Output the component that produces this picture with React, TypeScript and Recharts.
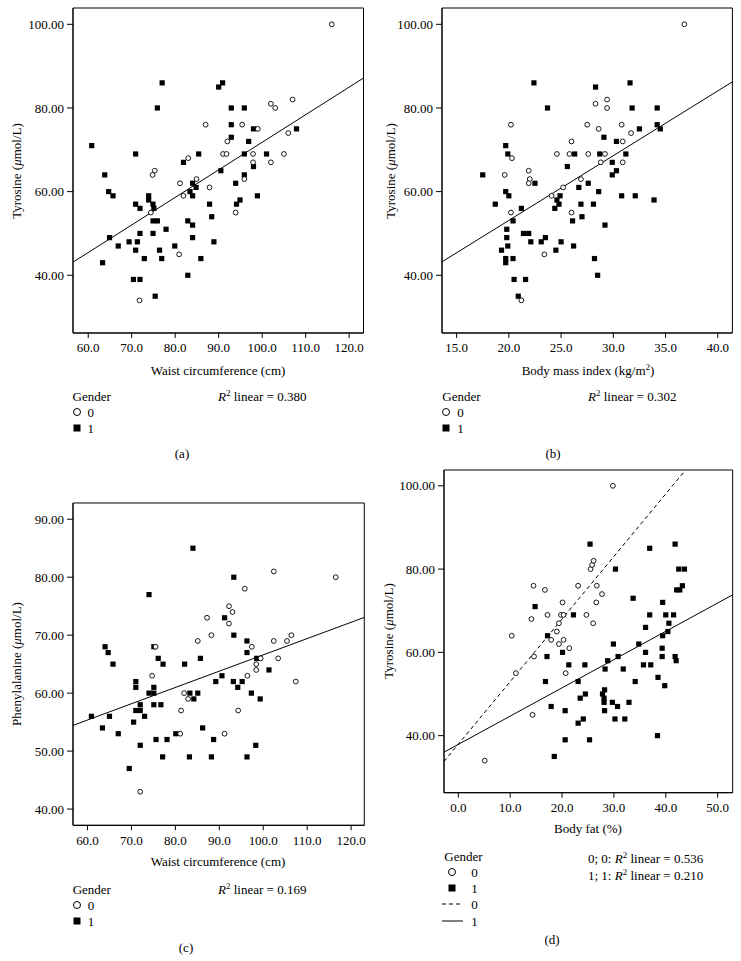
import { ScatterChart, Scatter, XAxis, YAxis, ReferenceLine, ReferenceArea } from "recharts";

type Pt = [number, number];

// (a) waist circumference (cm) vs tyrosine, by gender
const waistTyrF: Pt[] = [
  [116, 100], [102, 81], [103, 80], [107, 82], [87, 76], [95.4, 76], [99, 75], [106, 74], [92, 72],
  [91, 69], [91.8, 69], [97.9, 69], [105, 69], [83, 68], [97.9, 67], [102, 67], [75.3, 65], [74.8, 64],
  [84.9, 63], [95.9, 63], [81.1, 62], [87.9, 61], [81.9, 59], [74.4, 55], [93.9, 55], [80.9, 45], [71.8, 34],
];
const waistTyrM: Pt[] = [
  [77, 86], [90, 85], [90.9, 86], [75.9, 80], [92.9, 80], [95.9, 80], [92.9, 76], [98, 75], [107.9, 75],
  [92.9, 73], [96.9, 72], [60.8, 71], [70.9, 69], [85.4, 69], [95.9, 69], [101, 69], [81.9, 67], [98, 66],
  [90.5, 65], [63.8, 64], [95.9, 64], [84, 62], [93.9, 62], [84.8, 61], [64.7, 60], [83.4, 60], [65.7, 59],
  [84, 59], [98.9, 59], [73.9, 59], [73.9, 58], [94.9, 58], [70.9, 57], [74.9, 57], [87.9, 57], [94.1, 57],
  [71.9, 56], [75.1, 56], [88.4, 54], [74.9, 53], [75.9, 53], [82.9, 53], [84, 52], [77.9, 51], [71.9, 50],
  [74.9, 50], [64.9, 49], [84, 49], [69.4, 48], [71.3, 48], [88.9, 48], [66.9, 47], [79.9, 47], [70.9, 46],
  [76.4, 46], [72.9, 44], [76.9, 44], [85.9, 44], [63.3, 43], [82.9, 40], [70.4, 39], [71.9, 39], [75.4, 35],
];

// (b) body mass index vs tyrosine
const bmiTyrF: Pt[] = [
  [36.8, 100], [28.3, 81], [29.4, 82], [29.4, 80], [20.2, 76], [27.5, 76], [28.6, 75], [30.8, 76], [31.7, 74],
  [26, 72], [30.9, 72], [24.6, 69], [25.8, 69], [27.6, 69], [29.2, 69], [20.3, 68], [28.8, 67], [30.9, 67],
  [19.6, 64], [21.9, 65], [22, 63], [21.9, 62], [26.9, 63], [25.2, 61], [24.1, 59], [20.2, 55], [26, 55],
  [23.4, 45], [21.2, 34],
];
const bmiTyrM: Pt[] = [
  [22.4, 86], [31.6, 86], [28.3, 85], [23.7, 80], [31.8, 80], [34.2, 80], [34.2, 76], [34.5, 75], [32.5, 75],
  [29.1, 73], [30.3, 72], [19.7, 71], [19.9, 69], [26.3, 69], [28.7, 69], [31.2, 69], [25.6, 66], [29.9, 67],
  [17.5, 64], [29.9, 64], [30.3, 65], [22.5, 62], [27.6, 62], [26.7, 61], [19.7, 60], [28.6, 60], [20, 59],
  [24.9, 59], [30.8, 59], [32.1, 59], [33.9, 58], [24.6, 58], [18.7, 57], [24.8, 57], [26.9, 57], [28.1, 57],
  [24.4, 56], [21.2, 56], [20.4, 53], [26.1, 53], [27, 54], [29.2, 52], [19.8, 51], [21.4, 50], [21.9, 50],
  [19.8, 49], [23.5, 49], [22.1, 48], [23.1, 48], [25, 48], [19.9, 47], [26.2, 47], [19.3, 46], [24.5, 46],
  [19.7, 44], [20.4, 44], [28.2, 44], [19.7, 43], [28.5, 40], [20.5, 39], [21.6, 39], [20.9, 35],
];

// (c) waist circumference vs phenylalanine
const waistPheF: Pt[] = [
  [102.4, 81], [116.5, 80], [95.8, 78], [92.2, 75], [93, 74], [92.2, 72], [87.2, 73], [88.2, 70], [85.1, 69],
  [102.4, 69], [105.4, 69], [106.4, 70], [75.5, 68], [97.4, 68], [99.4, 66], [103.4, 66], [98.4, 65],
  [98.4, 64], [96.4, 63], [74.7, 63], [107.4, 62], [82, 60], [82.9, 59], [81.3, 57], [94.3, 57], [81.1, 53],
  [91.2, 53], [72, 43],
];
const waistPheM: Pt[] = [
  [84, 85], [93.3, 80], [74, 77], [91.2, 73], [93.3, 70], [96.3, 69], [96.3, 67], [64, 68], [64.7, 67],
  [75.1, 68], [76.1, 66], [65.8, 65], [77.2, 65], [82.1, 65], [85.7, 66], [98.5, 66], [101.3, 64], [90.6, 63],
  [89.2, 62], [93.2, 62], [95.2, 62], [94.2, 61], [71, 62], [71, 61], [75.1, 61], [74, 60], [75.1, 60],
  [83.3, 60], [85.1, 60], [84.2, 59], [97.3, 60], [99.3, 59], [75.1, 58], [76.7, 58], [72, 58], [60.9, 56],
  [65, 56], [71, 57], [72, 57], [73, 56], [63.4, 54], [67, 53], [70.5, 55], [72, 51], [69.5, 47], [75.6, 52],
  [78.1, 52], [77.1, 49], [80.1, 53], [83.2, 49], [86.2, 54], [88.7, 52], [88.2, 49], [96.3, 49], [98.3, 51],
];

// (d) body fat (%) vs tyrosine
const fatTyrF: Pt[] = [
  [29.8, 100], [25.5, 80], [25.8, 81], [26.1, 82], [14.5, 76], [16.7, 75], [23.1, 76], [26.7, 76], [27.7, 74],
  [20.1, 72], [26.6, 72], [17.2, 69], [19.8, 69], [20.3, 69], [24.7, 69], [14.1, 68], [19.4, 67], [26, 67],
  [19, 65], [10.3, 64], [17.9, 63], [20.3, 63], [19.4, 62], [21.4, 61], [14.6, 59], [20.7, 55], [11.1, 55],
  [14.3, 45], [5.1, 34],
];
const fatTyrM: Pt[] = [
  [25.4, 86], [41.8, 86], [36.9, 85], [30.3, 80], [42.5, 80], [43.6, 80], [43.2, 76], [42.1, 75], [42.7, 75],
  [33.7, 73], [39.4, 72], [14.8, 71], [22.2, 69], [36.9, 69], [40, 69], [41.5, 69], [40.6, 67], [40.4, 65],
  [36.1, 66], [39.4, 64], [17.2, 64], [29.9, 62], [34.8, 62], [36.1, 60], [39.3, 61], [20.1, 60], [17.1, 59],
  [30.8, 59], [39.3, 59], [41.8, 59], [42, 58], [28.8, 58], [21.3, 57], [24.4, 57], [28.3, 56], [31.8, 56],
  [35.7, 57], [37.1, 57], [16.8, 53], [23.1, 53], [34.1, 53], [38.5, 54], [39.8, 52], [28.2, 51], [27.8, 50],
  [23.5, 49], [24.5, 50], [28.1, 49], [28.1, 48], [29.7, 48], [30.7, 47], [32.9, 48], [17.9, 47], [28.2, 46],
  [20.6, 46], [30.2, 44], [32.1, 44], [23.1, 43], [24.1, 44], [38.4, 40], [20.6, 39], [25.3, 39], [18.5, 35],
];

const tyrTicks = [40, 60, 80, 100];
const pheTicks = [40, 50, 60, 70, 80, 90];
const waistTicks = [60, 70, 80, 90, 100, 110, 120];
const bmiTicks = [15, 20, 25, 30, 35, 40];
const fatTicks = [0, 10, 20, 30, 40, 50];

// fit lines: [intercept, slope]
const fitWaistTyr: Pt = [5.9, 0.659];
const fitBmiTyr: Pt = [22.16, 1.548];
const fitWaistPhe: Pt = [38.5, 0.281];
const fitFatTyrF: Pt = [37.95, 1.503];
const fitFatTyrM: Pt = [37.9, 0.679];

const FONT = "'Liberation Serif', 'Times New Roman', serif";

const toPts = (arr: Pt[]) => arr.map(([x, y]) => ({ x, y }));

const OpenCircle = (p: any) => (
  <circle cx={p.cx} cy={p.cy} r={2.4} fill="#fff" stroke="#000" strokeWidth={0.9} />
);
const FilledSquare = (p: any) => (
  <rect x={p.cx - 2.6} y={p.cy - 2.6} width={5.2} height={5.2} fill="#000" />
);

type Box = { left: number; top: number; width: number; height: number };

function Panel({
  box, xDomain, yDomain, xTicks, yTicks, female, male, fits,
}: {
  box: Box;
  xDomain: [number, number];
  yDomain: [number, number];
  xTicks: number[];
  yTicks: number[];
  female: Pt[];
  male: Pt[];
  fits: { fit: Pt; dashed?: boolean }[];
}) {
  const tick = { fill: "#000", fontSize: 13, fontFamily: FONT };
  return (
    <div style={{ position: "absolute", left: box.left - 75, top: box.top - 5 }}>
      <ScatterChart
        width={box.width + 80}
        height={box.height + 30}
        margin={{ top: 5, right: 5, bottom: 0, left: 0 }}
      >
        <XAxis
          type="number"
          dataKey="x"
          domain={xDomain}
          ticks={xTicks}
          allowDataOverflow
          height={25}
          tick={tick}
          tickSize={5}
          tickMargin={5}
          tickFormatter={(v: number) => v.toFixed(1)}
          stroke="#000"
        />
        <YAxis
          type="number"
          dataKey="y"
          domain={yDomain}
          ticks={yTicks}
          allowDataOverflow
          width={75}
          tick={tick}
          tickSize={6}
          tickMargin={3}
          tickFormatter={(v: number) => v.toFixed(2)}
          stroke="#000"
        />
        <ReferenceArea
          x1={xDomain[0]}
          x2={xDomain[1]}
          y1={yDomain[0]}
          y2={yDomain[1]}
          fill="none"
          fillOpacity={0}
          stroke="#000"
          strokeWidth={1}
          ifOverflow="visible"
        />
        <Scatter data={toPts(male)} shape={FilledSquare} isAnimationActive={false} />
        <Scatter data={toPts(female)} shape={OpenCircle} isAnimationActive={false} />
        {fits.map(({ fit, dashed }, i) => (
          <ReferenceLine
            key={i}
            segment={[
              { x: xDomain[0], y: fit[0] + fit[1] * xDomain[0] },
              { x: xDomain[1], y: fit[0] + fit[1] * xDomain[1] },
            ]}
            stroke="#000"
            strokeWidth={1}
            strokeDasharray={dashed ? "4 3" : undefined}
            ifOverflow="hidden"
          />
        ))}
      </ScatterChart>
    </div>
  );
}

const txt: React.CSSProperties = {
  position: "absolute",
  fontFamily: FONT,
  fontSize: 13,
  color: "#000",
  whiteSpace: "nowrap",
  lineHeight: 1,
};

function At({ x, y, center, children }: { x: number; y: number; center?: boolean; children: React.ReactNode }) {
  return (
    <div style={{ ...txt, left: x, top: y, transform: center ? "translate(-50%, -50%)" : "translateY(-50%)" }}>
      {children}
    </div>
  );
}

function YTitle({ x, y, children }: { x: number; y: number; children: React.ReactNode }) {
  return (
    <div style={{ ...txt, left: x, top: y, transform: "translate(-50%, -50%) rotate(-90deg)" }}>{children}</div>
  );
}

const Rsq = ({ v }: { v: string }) => (
  <span>
    <i>R</i>
    <sup style={{ fontSize: 9, verticalAlign: "5px" }}>2</sup> linear = {v}
  </span>
);

function Legend({ x, y, lines }: { x: number; y: number; lines?: boolean }) {
  const ix = lines ? 8 : 4;
  return (
    <>
      <At x={x} y={y}>Gender</At>
      <svg style={{ position: "absolute", left: x, top: y + 8, overflow: "visible" }} width={30} height={70}>
        <circle cx={ix} cy={8} r={3.5} fill="#fff" stroke="#000" strokeWidth={1} />
        <rect x={ix - 3.5} y={24 - 3.5} width={7} height={7} fill="#000" />
        {lines && (
          <>
            <line x1={-2} x2={19} y1={40} y2={40} stroke="#000" strokeDasharray="4 3" />
            <line x1={-2} x2={19} y1={57} y2={57} stroke="#000" />
          </>
        )}
      </svg>
      <At x={x + (lines ? 27 : 15)} y={y + 16}>0</At>
      <At x={x + (lines ? 27 : 15)} y={y + 32}>1</At>
      {lines && (
        <>
          <At x={x + 27} y={y + 48}>0</At>
          <At x={x + 27} y={y + 65}>1</At>
        </>
      )}
    </>
  );
}

const umol = (
  <>
    (<i>μ</i>mol/L)
  </>
);

export default function App() {
  return (
    <div style={{ position: "absolute", left: 0, top: 0, width: 741, height: 961, background: "#fff" }}>
      <Panel
        box={{ left: 72.5, top: 8.3, width: 290.5, height: 325 }}
        xDomain={[56.5, 123.3]}
        yDomain={[26.2, 103.9]}
        xTicks={waistTicks}
        yTicks={tyrTicks}
        female={waistTyrF}
        male={waistTyrM}
        fits={[{ fit: fitWaistTyr }]}
      />
      <YTitle x={16} y={171}>Tyrosine {umol}</YTitle>
      <At x={218} y={370} center>Waist circumference (cm)</At>
      <Legend x={72.5} y={396} />
      <At x={218} y={396}><Rsq v="0.380" /></At>
      <At x={182} y={453} center>(a)</At>

      <Panel
        box={{ left: 442.3, top: 8.3, width: 290.4, height: 325 }}
        xDomain={[13.6, 41.4]}
        yDomain={[26.2, 103.9]}
        xTicks={bmiTicks}
        yTicks={tyrTicks}
        female={bmiTyrF}
        male={bmiTyrM}
        fits={[{ fit: fitBmiTyr }]}
      />
      <YTitle x={390} y={171}>Tyrosine {umol}</YTitle>
      <At x={588} y={370} center>
        Body mass index (kg/m<sup style={{ fontSize: 9, verticalAlign: "5px" }}>2</sup>)
      </At>
      <Legend x={442.3} y={396} />
      <At x={588} y={396}><Rsq v="0.302" /></At>
      <At x={553} y={453} center>(b)</At>

      <Panel
        box={{ left: 72.7, top: 502.7, width: 291.3, height: 322.3 }}
        xDomain={[56.7, 123.0]}
        yDomain={[37.2, 92.8]}
        xTicks={waistTicks}
        yTicks={pheTicks}
        female={waistPheF}
        male={waistPheM}
        fits={[{ fit: fitWaistPhe }]}
      />
      <YTitle x={16} y={664}>Phenylalanine {umol}</YTitle>
      <At x={218} y={861} center>Waist circumference (cm)</At>
      <Legend x={72.7} y={889} />
      <At x={218} y={889}><Rsq v="0.169" /></At>
      <At x={186} y={947} center>(c)</At>

      <Panel
        box={{ left: 444, top: 470, width: 288.7, height: 322.7 }}
        xDomain={[-2.76, 52.9]}
        yDomain={[26.3, 103.8]}
        xTicks={fatTicks}
        yTicks={tyrTicks}
        female={fatTyrF}
        male={fatTyrM}
        fits={[{ fit: fitFatTyrF, dashed: true }, { fit: fitFatTyrM }]}
      />
      <YTitle x={388} y={631}>Tyrosine {umol}</YTitle>
      <At x={588} y={828} center>Body fat (%)</At>
      <Legend x={444.3} y={856} lines />
      <At x={588} y={858}>0; 0: <Rsq v="0.536" /></At>
      <At x={588} y={875}>1; 1: <Rsq v="0.210" /></At>
      <At x={552} y={939} center>(d)</At>
    </div>
  );
}
